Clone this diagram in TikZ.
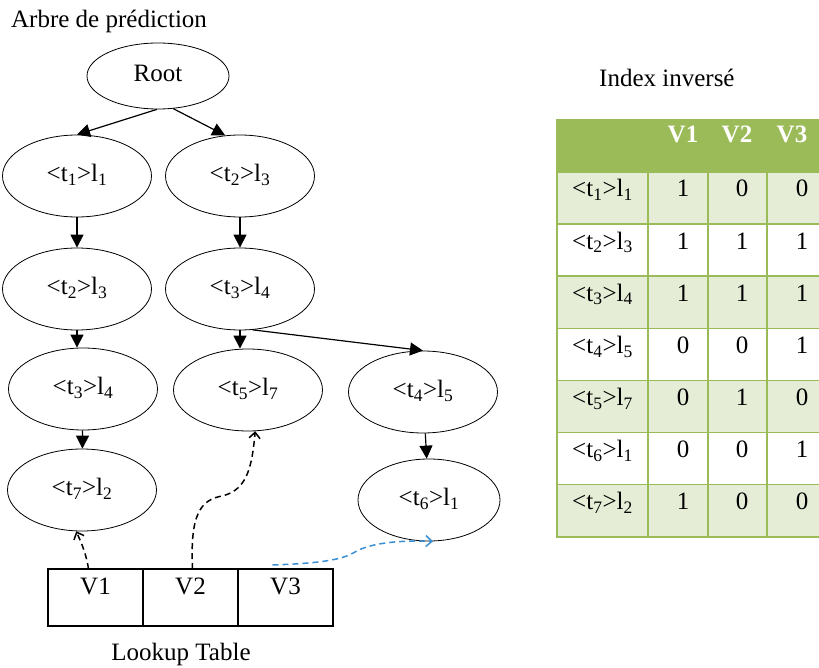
\documentclass[tikz,border=0pt]{standalone}
\usepackage{fontspec}
\setmainfont{Liberation Serif}
\usetikzlibrary{shapes.geometric, arrows.meta, positioning, calc}
\definecolor{headgreen}{HTML}{9BBB59}
\definecolor{rowgreen}{HTML}{E5EDD6}
\definecolor{linkblue}{HTML}{3A8FD3}
\newcommand{\tlab}[2]{\textless t\textsubscript{#1}\textgreater l\textsubscript{#2}}

\begin{document}
\begin{tikzpicture}[x=1pt, y=-1pt,
    tnode/.style={ellipse, draw, line width=0.8pt, minimum width=149pt, minimum height=82pt, inner sep=0pt, text depth=6pt, font=\fontsize{25}{29}\selectfont},
    edge/.style={-{Triangle[length=13pt, width=13pt]}, line width=1.2pt},
    link/.style={-{Straight Barb[length=6pt, width=11pt]}, dash pattern=on 6pt off 4pt, line width=1.5pt},
    cell/.style={draw, line width=1.2pt, outer sep=0pt, minimum width=95pt, inner ysep=0pt, text height=25pt, text depth=32pt, font=\fontsize{25}{29}\selectfont},
    txt/.style={inner sep=0pt, font=\fontsize{25}{29}\selectfont},
]
\useasboundingbox (0,0) rectangle (819,668);

\node[txt, anchor=base west] (arbre) at (11,28) {Arbre de prédiction};
\node[txt, anchor=base west] (index) at (599,87) {Index inversé};

\node[tnode, minimum width=142pt, minimum height=66pt] (root) at (158,76) {Root};
\node[tnode] (a1) at (77,176) {\tlab{1}{1}};
\node[tnode] (b1) at (240,176) {\tlab{2}{3}};
\node[tnode] (a2) at (77,289) {\tlab{2}{3}};
\node[tnode] (b2) at (240,289) {\tlab{3}{4}};
\node[tnode] (a3) at (83,389) {\tlab{3}{4}};
\node[tnode] (b3) at (248,390) {\tlab{5}{7}};
\node[tnode] (c3) at (423,392) {\tlab{4}{5}};
\node[tnode] (a4) at (82,490) {\tlab{7}{2}};
\node[tnode, minimum width=142pt] (c4) at (429,500) {\tlab{6}{1}};

\draw[edge] (root.-92) -- (a1.north);
\draw[edge] (root.-65) -- (b1.110);
\draw[edge] (a1) -- (a2);
\draw[edge] (b1) -- (b2);
\draw[edge] (a2.south) -- (a2.south |- a3.north);
\draw[edge] (b2.south) -- (b2.south |- b3.north);
\draw[edge] (b2.-73) -- (c3.north);
\draw[edge] (a3) -- (a4);
\draw[edge] (c3) -- (c4);

\node[cell] (v1) at (95.5,597.5) {V1};
\node[cell, right=0pt of v1] (v2) {V2};
\node[cell, right=0pt of v2] (v3) {V3};
\node[txt, anchor=base] (lookup) at (181,660) {Lookup Table};

\draw[link] ([xshift=-7pt]v1.north) .. controls (86,552) and (80,540) .. (a4.-98);
\draw[link] ([xshift=2pt]v2.north) .. controls (190,515) and (200,500) .. (222,496) .. controls (248,490) and (252,465) .. (b3.-80);
\draw[link, linkblue] ([xshift=-13pt, yshift=4pt]v3.north) .. controls (330,563) and (345,558) .. (355,552) .. controls (370,543) and (400,540) .. ([xshift=4pt]c4.south);

\fill[headgreen] (557,120) rectangle (824,172);
\foreach \t/\l/\a/\b/\c/\f [count=\i] in {1/1/1/0/0/rowgreen, 2/3/1/1/1/white, 3/4/1/1/1/rowgreen, 4/5/0/0/1/white, 5/7/0/1/0/rowgreen, 6/1/0/0/1/white, 7/2/1/0/0/rowgreen}{
  \pgfmathsetmacro\rowy{172+(\i-1)*52.1}
  \fill[\f] (557,\rowy) rectangle (824,\rowy+52.1);
  \node[txt, anchor=base west] (lab\i) at (572,\rowy+25) {\tlab{\t}{\l}};
  \node[txt, anchor=base] (va\i) at (683,\rowy+25) {\a};
  \node[txt, anchor=base] (vb\i) at (742,\rowy+25) {\b};
  \node[txt, anchor=base] (vc\i) at (802,\rowy+25) {\c};
  \draw[headgreen, line width=1.5pt] (557,\rowy) -- (824,\rowy);
}
\foreach \x in {648,708,767}
  \draw[headgreen, line width=1.5pt] (\x,172) -- (\x,537);
\draw[headgreen, line width=1.5pt] (557,120) rectangle (824,537);
\node[txt, anchor=base, text=white, font=\fontsize{25}{29}\selectfont\bfseries] (h1) at (683,143) {V1};
\node[txt, anchor=base, text=white, font=\fontsize{25}{29}\selectfont\bfseries] (h2) at (737,143) {V2};
\node[txt, anchor=base, text=white, font=\fontsize{25}{29}\selectfont\bfseries] (h3) at (792,143) {V3};

\end{tikzpicture}
\end{document}
